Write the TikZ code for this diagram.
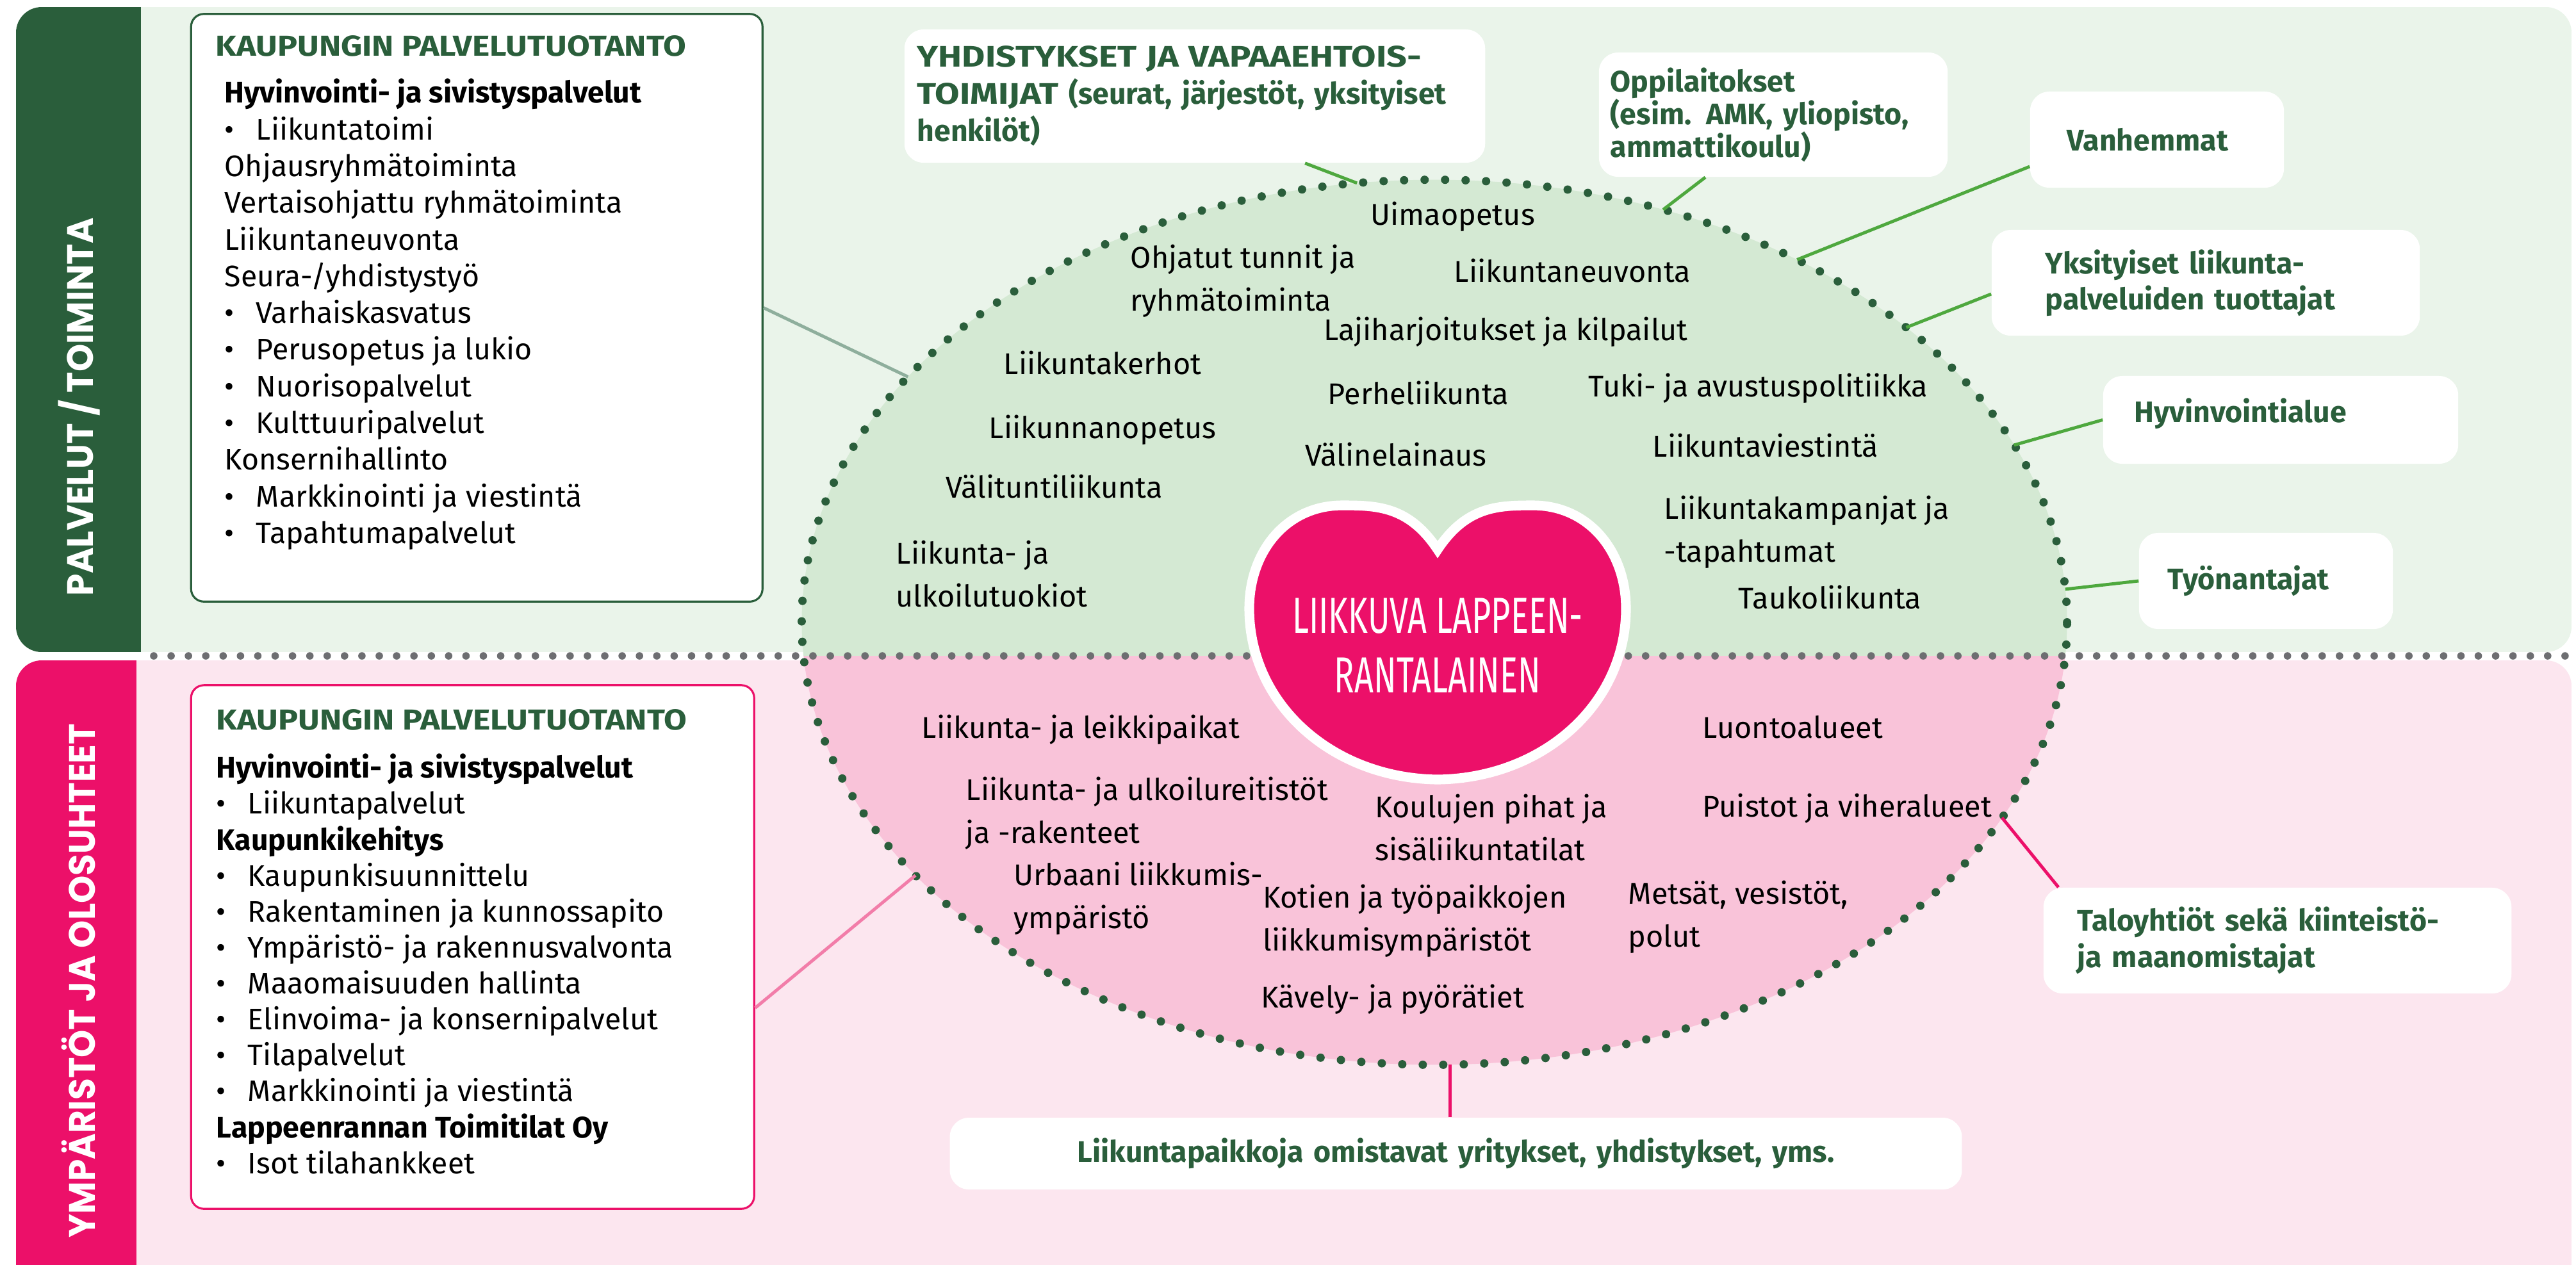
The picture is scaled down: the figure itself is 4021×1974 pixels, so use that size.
\documentclass[tikz,border=0pt]{standalone}
\usepackage{fontspec}
\setmainfont{Fira Sans}
\newfontfamily\bandfont{Poppins}[FakeStretch=0.96]
\newfontfamily\heartfont{Fira Sans}[FakeStretch=0.66]
\newfontfamily\titlefont{Fira Sans}[FakeStretch=1.15]
\newfontfamily\capsfont{Fira Sans}[FakeStretch=1.2]
\usetikzlibrary{shapes.geometric}

\definecolor{lppgreen}{HTML}{2A5E3B}
\definecolor{lppgreenbg}{HTML}{EAF4EA}
\definecolor{lppgreenfill}{HTML}{D4E9D3}
\definecolor{lpppink}{HTML}{EC1069}
\definecolor{lpppinkbg}{HTML}{FCE6EF}
\definecolor{lpppinkfill}{HTML}{F9C3D9}
\definecolor{lpplink}{HTML}{4EA83E}
\definecolor{lppgrey}{HTML}{6D6E71}
\definecolor{lppsage}{HTML}{8EAE9C}
\definecolor{lpprose}{HTML}{F27DA9}

\newcommand{\lppitem}[1]{\makebox[14pt][l]{\textbullet}#1}
\newcommand{\lpptitle}[1]{{\color{lppgreen}\titlefont\bfseries\fontsize{12.8}{16}\selectfont #1}}

\tikzset{
	listbox/.style={draw=#1,line width=0.9pt,fill=white,rounded corners=0.2cm,inner sep=0pt},
	listtext/.style={anchor=north west,inner sep=0pt,align=left,font=\fontsize{13.2}{16.3}\selectfont},
	bandlabel/.style={rotate=90,text=white,inner sep=0pt,font=\bandfont\bfseries\fontsize{16.3}{18}\selectfont},
	item/.style={anchor=base west,inner sep=0pt,align=left,font=\fontsize{13.3}{18.8}\selectfont},
	callout/.style={fill=white,rounded corners=0.3cm,inner ysep=0pt,align=left,text=lppgreen,font=\bfseries\fontsize{13.2}{16.5}\selectfont},
	link/.style={draw=lpplink,line width=1.4pt},
	pinklink/.style={draw=lpppink,line width=1.4pt},
	ring/.style={ellipse,draw=lppgreen,line width=3.7pt,line cap=round,dash pattern=on 0pt off 9.1pt,inner sep=0pt,outer sep=0pt},
	heartshape/.style={fill=lpppink,draw=white,line width=4.3pt}
}

\begin{document}
\begin{tikzpicture}[x=0.01cm,y=-0.01cm]
	\clip (0,0) rectangle (4021,1974);
	\fill[white] (0,0) rectangle (4021,1974);
	% upper panel
	\begin{scope}
		\clip[rounded corners=0.4cm] (25,11) rectangle (4014,1018);
		\fill[lppgreenbg] (25,11) rectangle (4014,1018);
		\fill[lppgreen] (25,11) rectangle (220,1018);
	\end{scope}
	% lower panel
	\begin{scope}
		\clip[rounded corners=0.4cm] (25,1031) rectangle (4014,2100);
		\fill[lpppinkbg] (25,1031) rectangle (4014,2100);
		\fill[lpppink] (25,1031) rectangle (213,2100);
	\end{scope}
	\node[bandlabel] (toiminta) at (124,635) {PALVELUT / TOIMINTA};
	\node[bandlabel] (olosuhteet) at (123,1531) {YMPÄRISTÖT JA OLOSUHTEET};
	% ellipse halves
	\begin{scope}
		\clip (2239,971.5) ellipse [x radius=9.87cm, y radius=6.905cm];
		\fill[lppgreenfill] (1200,250) rectangle (3300,1024);
		\fill[lpppinkfill] (1200,1024) rectangle (3300,1700);
	\end{scope}
	\draw[lppgrey,line width=3.3pt,line cap=round,dash pattern=on 0pt off 7.7pt] (240,1024) -- (4021,1024);
	\node[ring,minimum width=19.74cm,minimum height=13.81cm] (ring) at (2239,971.5) {};

	% heart
	\draw[heartshape] (2244,858) .. controls (2199,790) and (2149,789) .. (2095,789)
		.. controls (2009,789) and (1950,860) .. (1950,950)
		.. controls (1950,1100) and (2080,1215) .. (2244,1217)
		.. controls (2408,1215) and (2538,1100) .. (2538,950)
		.. controls (2538,860) and (2479,789) .. (2393,789)
		.. controls (2339,789) and (2289,790) .. (2244,858) -- cycle;
	\node[anchor=north,inner sep=0pt,align=center,text=white,font=\heartfont\fontsize{22.5}{26.5}\selectfont] (hearttext) at (2244,933) {LIIKKUVA LAPPEEN-\\RANTALAINEN};

	% left lists
	\node[listbox=lppgreen,minimum width=8.915cm,minimum height=9.17cm] (kptbox) at (744.25,480.5) {};
	\node[listtext] (kpttext) at (350,55) {\hspace*{-0.14cm}\lpptitle{KAUPUNGIN PALVELUTUOTANTO}\\[0.157cm]
		\textbf{Hyvinvointi- ja sivistyspalvelut}\\
		\lppitem{Liikuntatoimi}\\
		Ohjausryhmätoiminta\\
		Vertaisohjattu ryhmätoiminta\\
		Liikuntaneuvonta\\
		Seura-/yhdistystyö\\
		\lppitem{Varhaiskasvatus}\\
		\lppitem{Perusopetus ja lukio}\\
		\lppitem{Nuorisopalvelut}\\
		\lppitem{Kulttuuripalvelut}\\
		Konsernihallinto\\
		\lppitem{Markkinointi ja viestintä}\\
		\lppitem{Tapahtumapalvelut}};
	\node[listbox=lpppink,minimum width=8.785cm,minimum height=8.17cm] (kpobox) at (737.75,1478.5) {};
	\node[listtext,font=\fontsize{13.2}{15.96}\selectfont] (kpotext) at (337,1107) {\lpptitle{KAUPUNGIN PALVELUTUOTANTO}\\[0.19cm]
		\textbf{Hyvinvointi- ja sivistyspalvelut}\\
		\lppitem{Liikuntapalvelut}\\
		\textbf{Kaupunkikehitys}\\
		\lppitem{Kaupunkisuunnittelu}\\
		\lppitem{Rakentaminen ja kunnossapito}\\
		\lppitem{Ympäristö- ja rakennusvalvonta}\\
		\lppitem{Maaomaisuuden hallinta}\\
		\lppitem{Elinvoima- ja konsernipalvelut}\\
		\lppitem{Tilapalvelut}\\
		\lppitem{Markkinointi ja viestintä}\\
		\textbf{Lappeenrannan Toimitilat Oy}\\
		\lppitem{Isot tilahankkeet}};

	% items in the upper half
	\node[item] (uima) at (2139,351) {Uimaopetus};
	\node[item] (ohjatut) at (1764,485) {Ohjatut tunnit ja\\ryhmätoiminta};
	\node[item] (neuvonta) at (2269,440) {Liikuntaneuvonta};
	\node[item] (laji) at (2066,531) {Lajiharjoitukset ja kilpailut};
	\node[item] (kerhot) at (1566,584) {Liikuntakerhot};
	\node[item] (perhe) at (2072,631) {Perheliikunta};
	\node[item] (tuki) at (2479,619) {Tuki- ja avustuspolitiikka};
	\node[item] (opetus) at (1543,684) {Liikunnanopetus};
	\node[item] (laina) at (2037,727) {Välinelainaus};
	\node[item] (viestinta) at (2579,713) {Liikuntaviestintä};
	\node[item] (valitunti) at (1476,777) {Välituntiliikunta};
	\node[item] (kampanjat) at (2597,877) {Liikuntakampanjat ja\\-tapahtumat};
	\node[item] (tauko) at (2713,950) {Taukoliikunta};
	\node[item] (tuokiot) at (1398,947) {Liikunta- ja\\ulkoilutuokiot};
	% items in the lower half
	\node[item] (leikki) at (1438,1152) {Liikunta- ja leikkipaikat};
	\node[item] (reitit) at (1507,1316) {Liikunta- ja ulkoilureitistöt\\ja -rakenteet};
	\node[item] (pihat) at (2146,1343) {Koulujen pihat ja\\sisäliikuntatilat};
	\node[item] (urbaani) at (1582,1449) {Urbaani liikkumis-\\ympäristö};
	\node[item] (kotien) at (1971,1484) {Kotien ja työpaikkojen\\liikkumisympäristöt};
	\node[item] (metsat) at (2541,1478) {Metsät, vesistöt,\\polut};
	\node[item] (kavely) at (1968,1573) {Kävely- ja pyörätiet};
	\node[item] (luonto) at (2657,1152) {Luontoalueet};
	\node[item] (puistot) at (2657,1275) {Puistot ja viheralueet};

	% partners
	\node[callout,minimum width=9.06cm,minimum height=2.08cm,inner xsep=0.2cm,text width=8.66cm,font=\bfseries\fontsize{13.2}{16.5}\selectfont] (yhd) at (1865,150) {{\capsfont YHDISTYKSET JA VAPAAEHTOIS-}\\{\capsfont TOIMIJAT} (seurat, järjestöt, yksityiset\\henkilöt)};
	\node[callout,minimum width=5.44cm,minimum height=1.94cm,inner xsep=0.18cm,text width=5.08cm,font=\bfseries\fontsize{13.2}{14.5}\selectfont] (opp) at (2768,179) {Oppilaitokset\\(esim. AMK, yliopisto,\\ammattikoulu)};
	\node[callout,minimum width=3.96cm,minimum height=1.5cm,inner xsep=0.58cm,text width=2.8cm] (van) at (3367,218) {Vanhemmat};
	\node[callout,minimum width=6.68cm,minimum height=1.65cm,inner xsep=0.84cm,text width=5cm,font=\bfseries\fontsize{13.2}{15.9}\selectfont] (yks) at (3443,441.5) {Yksityiset liikunta-\\palveluiden tuottajat};
	\node[callout,minimum width=5.54cm,minimum height=1.37cm,inner xsep=0.49cm,text width=4.56cm,text depth=0.3cm] (hyv) at (3560,655.5) {Hyvinvointialue};
	\node[callout,minimum width=3.96cm,minimum height=1.5cm,inner xsep=0.45cm,text width=3.06cm] (tyo) at (3537,907) {Työnantajat};
	\node[callout,minimum width=7.3cm,minimum height=1.65cm,inner xsep=0.53cm,text width=6.24cm,font=\bfseries\fontsize{13.2}{16.2}\selectfont] (talo) at (3555,1468.5) {Taloyhtiöt sekä kiinteistö-\\ja maanomistajat};
	\node[callout,minimum width=15.79cm,minimum height=1.12cm,inner xsep=0.395cm,text width=15cm,align=center] (lpk) at (2272.5,1801) {Liikuntapaikkoja omistavat yritykset, yhdistykset, yms.};

	% connectors
	\draw[link] ([xshift=1.72cm]yhd.south) -- (ring.100.9);
	\draw[link] ([xshift=-1.06cm]opp.south) -- (ring.61.2);
	\draw[link] ([yshift=-0.42cm]van.west) -- (ring.45.2);
	\draw[link] ([yshift=-0.175cm]yks.west) -- (ring.32.3);
	\draw[link] (hyv.west) -- (ring.17);
	\draw[link] (tyo.west) -- (ring.3.75);
	\draw[pinklink] ([xshift=0.24cm]talo.north west) -- (ring.341.3);
	\draw[pinklink] (lpk.north -| ring.272.8) -- (ring.272.8);
	\draw[lppsage,line width=1.4pt] (kptbox.east) -- (ring.155.2);
	\draw[lpprose,line width=1.4pt] ([yshift=-0.95cm]kpobox.east) -- (ring.206.6);
\end{tikzpicture}
\end{document}
